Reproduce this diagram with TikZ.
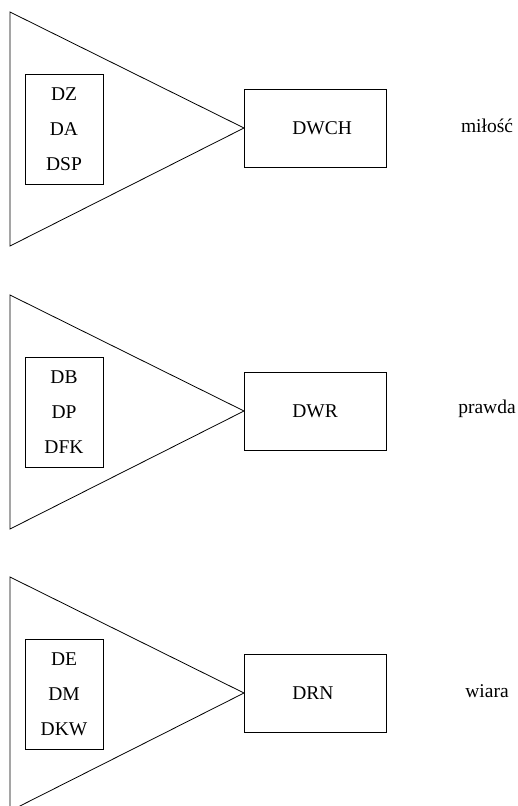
\documentclass[tikz,border=0pt]{standalone}
\usepackage{fontspec}
\setmainfont{Liberation Serif}
\begin{document}
\begin{tikzpicture}[x=1pt,y=-1pt,line width=0.8pt,
	every node/.style={font=\fontsize{19.5}{35}\selectfont},
	ramka/.style={draw,inner sep=0pt,minimum width=142pt,minimum height=78pt,text width=46pt,align=left},
	skrzynka/.style={draw,inner sep=0pt,align=center,minimum width=78pt,minimum height=110pt},
	slowo/.style={inner sep=0pt}]
	\useasboundingbox (0,0) rectangle (518,806);
	\clip (0,0) rectangle (518,806);
	\foreach \i/\a/\wpis/\cel/\haslo in {1/128/{DZ\\DA\\DSP}/DWCH/miłość,2/411/{DB\\DP\\DFK}/DWR/prawda,3/693/{DE\\DM\\DKW}/DRN/wiara}
	{
	\coordinate (apex\i) at (244,\a);
	\draw (10,\a-116) -- (apex\i) -- (10,\a+118) -- cycle;
	\node[skrzynka] (wpis\i) at (64,\a+1) {\wpis};
	\node[ramka,anchor=west] (cel\i) at (apex\i) {\cel};
	\node[slowo] (haslo\i) at (487,\a-2) {\haslo};
	}
\end{tikzpicture}
\end{document}
